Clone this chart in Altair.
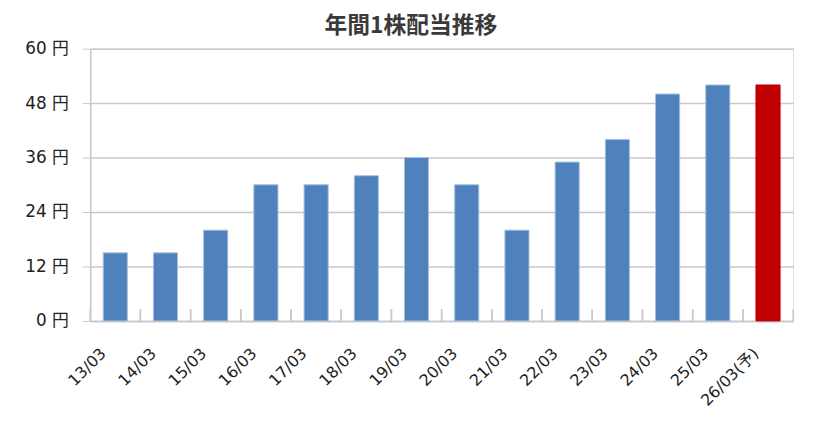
import altair as alt
import pandas as pd

categories = ["13/03", "14/03", "15/03", "16/03", "17/03", "18/03", "19/03",
              "20/03", "21/03", "22/03", "23/03", "24/03", "25/03", "26/03(予)"]
dividends = [15, 15, 20, 30, 30, 32, 36, 30, 20, 35, 40, 50, 52, 52]
kinds = ["実績"] * 13 + ["予想"]

df = pd.DataFrame({"期": categories, "配当": dividends, "種別": kinds})

FONT = "DejaVu Sans, Noto Sans CJK JP"
W, H = 710, 275
GRID = "#c8c8c8"

x_enc = alt.X("期:N", sort=categories, title=None,
              scale=alt.Scale(paddingInner=0.52, paddingOuter=0.26),
              axis=alt.Axis(labelAngle=-45, labelFont=FONT, labelFontSize=16,
                            labelColor="#222222", labelPadding=30, labelOffset=-12,
                            ticks=False, domainColor=GRID, domainWidth=1.5,
                            labelAlign="right", labelBaseline="middle"))

bars = alt.Chart(df).mark_bar(strokeWidth=1).encode(
    x=x_enc,
    y=alt.Y("配当:Q", title=None,
            scale=alt.Scale(domain=[0, 60]),
            axis=alt.Axis(values=[0, 12, 24, 36, 48, 60], labelExpr="datum.value + ' 円'",
                          labelFont=FONT, labelFontSize=17, labelColor="#222222",
                          labelPadding=14, tickSize=8, tickColor=GRID,
                          gridColor=GRID, gridWidth=1.5, domainColor=GRID,
                          domainWidth=1.5)),
    color=alt.Color("種別:N", scale=alt.Scale(domain=["実績", "予想"],
                                             range=["#4f81bd", "#c00000"]), legend=None),
    stroke=alt.Stroke("種別:N", scale=alt.Scale(domain=["実績", "予想"],
                                               range=["#a7c0de", "#c00000"]), legend=None),
)

ticks = alt.Chart(df).mark_rule(color=GRID, strokeWidth=1.5).encode(
    x=alt.X("期:N", sort=categories, axis=None, bandPosition=0,
            scale=alt.Scale(paddingInner=0, paddingOuter=0)),
    y=alt.value(H - 12),
    y2=alt.value(H),
)
end_tick = alt.Chart(df).mark_rule(color=GRID, strokeWidth=1.5).encode(
    x=alt.X("期:N", sort=categories, axis=None, bandPosition=1,
            scale=alt.Scale(paddingInner=0, paddingOuter=0)),
    y=alt.value(H - 12),
    y2=alt.value(H),
)
tick_layer = alt.layer(ticks, end_tick)

chart = alt.layer(bars, tick_layer).resolve_scale(x="independent").properties(
    width=W, height=H,
    title=alt.TitleParams("年間1株配当推移", font="Noto Sans CJK JP", fontSize=23,
                          fontWeight="bold", color="#3a3a3a", anchor="middle",
                          dx=-31, dy=6, offset=8),
    autosize=alt.AutoSizeParams(type="none"),
    padding={"left": 83, "top": 39, "right": 12, "bottom": 97},
).configure_view(stroke=None).configure(background="white")

chart.save("out.html", embed_options={"renderer": "svg", "actions": False})
